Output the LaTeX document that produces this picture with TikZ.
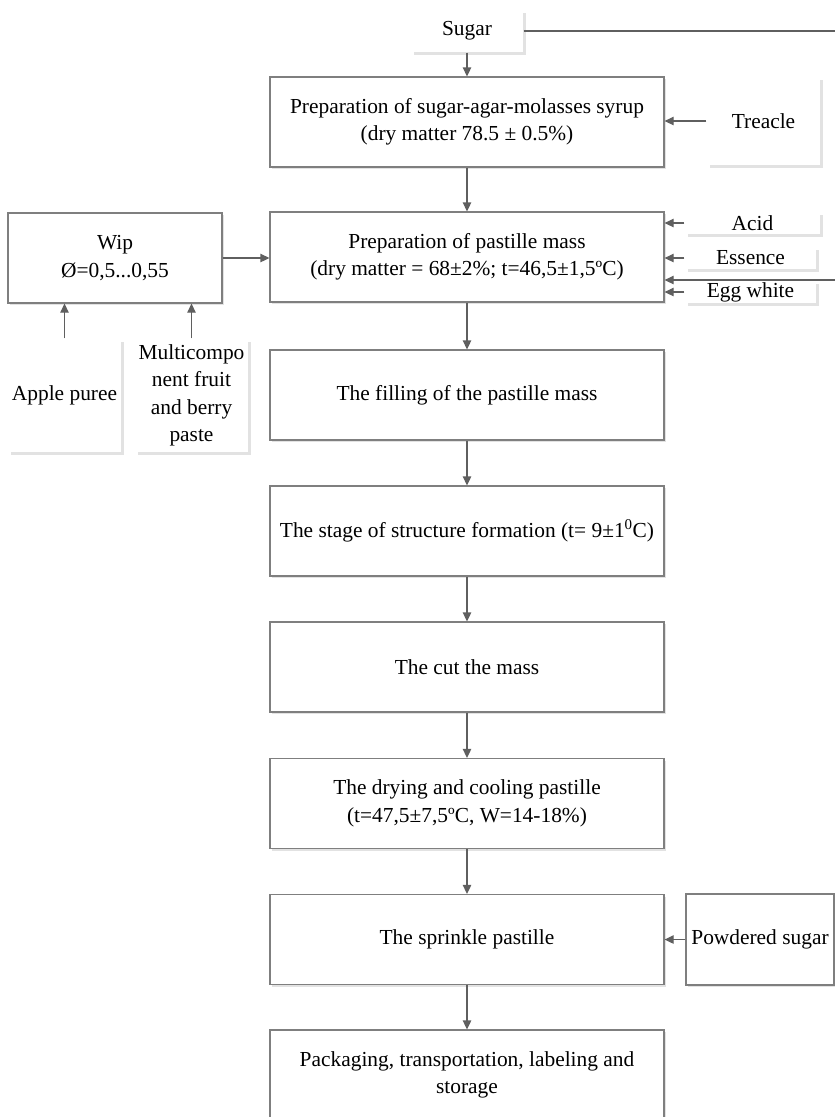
\documentclass[tikz,border=0pt]{standalone}
\usepackage{fontspec}
\setmainfont{Liberation Serif}
\usetikzlibrary{arrows.meta, shadows}

\begin{document}
\begin{tikzpicture}[
    x=1pt, y=-1pt,
    font=\fontsize{21.4}{27.5}\selectfont,
    >={Triangle[length=9pt, width=8.5pt]},
    line width=1.3pt
]

    % Parameters
    \def\colX{467}
    \def\boxW{394}
    \def\boxH{90}
    \def\rimX{835}

    % Define colors
    \definecolor{lineColor}{HTML}{7F7F7F}
    \definecolor{arrowColor}{HTML}{5F5F5F}
    \definecolor{shadeColor}{HTML}{E2E2E2}

    \tikzset{
        stage/.style={draw=lineColor, fill=white, align=center, inner sep=2pt,
            minimum width=\boxW pt, minimum height=\boxH pt,
            drop shadow={shadow xshift=2pt, shadow yshift=-2pt, fill=shadeColor, opacity=1}},
        supply/.style={fill=white, align=center, inner sep=0pt,
            drop shadow={shadow xshift=3pt, shadow yshift=-3pt, fill=shadeColor, opacity=1}},
        flow/.style={->, draw=arrowColor}
    }

    \useasboundingbox (0,0) rectangle (835,1117);

    % 1. Main stages
    \node[stage] (syrup) at (\colX, 122) {Preparation of sugar-agar-molasses syrup\\(dry matter 78.5 ± 0.5\%)};
    \node[stage] (mass) at (\colX, 257) {Preparation of pastille mass\\(dry matter = 68±2\%; t=46,5±1,5ºC)};
    \node[stage] (filling) at (\colX, 395) {The filling of the pastille mass};
    \node[stage] (structure) at (\colX, 531) {The stage of structure formation (t= 9±1\textsuperscript{0}C)};
    \node[stage] (cut) at (\colX, 667) {The cut the mass};
    \node[stage] (drying) at (\colX, 803.5) {The drying and cooling pastille\\(t=47,5±7,5ºC, W=14-18\%)};
    \node[stage] (sprinkle) at (\colX, 939.5) {The sprinkle pastille};
    \node[stage] (packing) at (\colX, 1075) {Packaging, transportation, labeling and\\storage};

    \foreach \a/\b in {syrup/mass, mass/filling, filling/structure, structure/cut, cut/drying, drying/sprinkle, sprinkle/packing} {
        \draw[flow] (\a) -- (\b);
    }

    % 2. Sugar and treacle
    \coordinate (rim) at (\rimX, 0);
    \node[supply, minimum width=112pt, minimum height=42pt] (sugar) at (\colX, 31) {Sugar};
    \draw[draw=arrowColor] (sugar.east) -- (sugar.east -| rim);
    \draw[flow] (sugar) -- (syrup);

    \node[supply, minimum width=113pt, minimum height=88pt] (treacle) at (763.5, 121) {Treacle};
    \draw[flow] (treacle.west) -- (treacle.west -| syrup.east);

    % 3. Additions to the pastille mass
    \node[supply, minimum width=135pt, minimum height=22pt] (acid) at (752.5, 223) {Acid};
    \node[supply, minimum width=131pt, minimum height=22pt] (essence) at (750.5, 258) {Essence};
    \node[supply, minimum width=131pt, minimum height=22pt] (egg) at (750.5, 292) {Egg white};
    \foreach \s in {acid, essence, egg} {
        \draw[flow] (\s.west) -- (\s.west -| mass.east);
    }
    \coordinate (sugarIn) at (\rimX, 280);
    \draw[flow] (sugarIn) -- (sugarIn -| mass.east);

    % 4. Wip and its components
    \node[stage, minimum width=214pt] (wip) at (115, 258) {Wip\\Ø=0,5...0,55};
    \draw[flow] (wip.east) -- (wip.east -| mass.west);

    \node[supply, minimum width=113pt, minimum height=113pt] (apple) at (64.5, 395.5) {Apple puree};
    \node[supply, minimum width=113pt, minimum height=113pt] (paste) at (191.5, 395.5) {Multicompo\\nent fruit\\and berry\\paste};
    \foreach \s in {apple, paste} {
        \draw[flow] (\s.north) -- (\s.north |- wip.south);
    }

    % 5. Powdered sugar
    \node[stage, minimum width=148pt, minimum height=91pt] (powder) at (760, 939.5) {Powdered sugar};
    \draw[flow] (powder.west) -- (powder.west -| sprinkle.east);

\end{tikzpicture}
\end{document}
